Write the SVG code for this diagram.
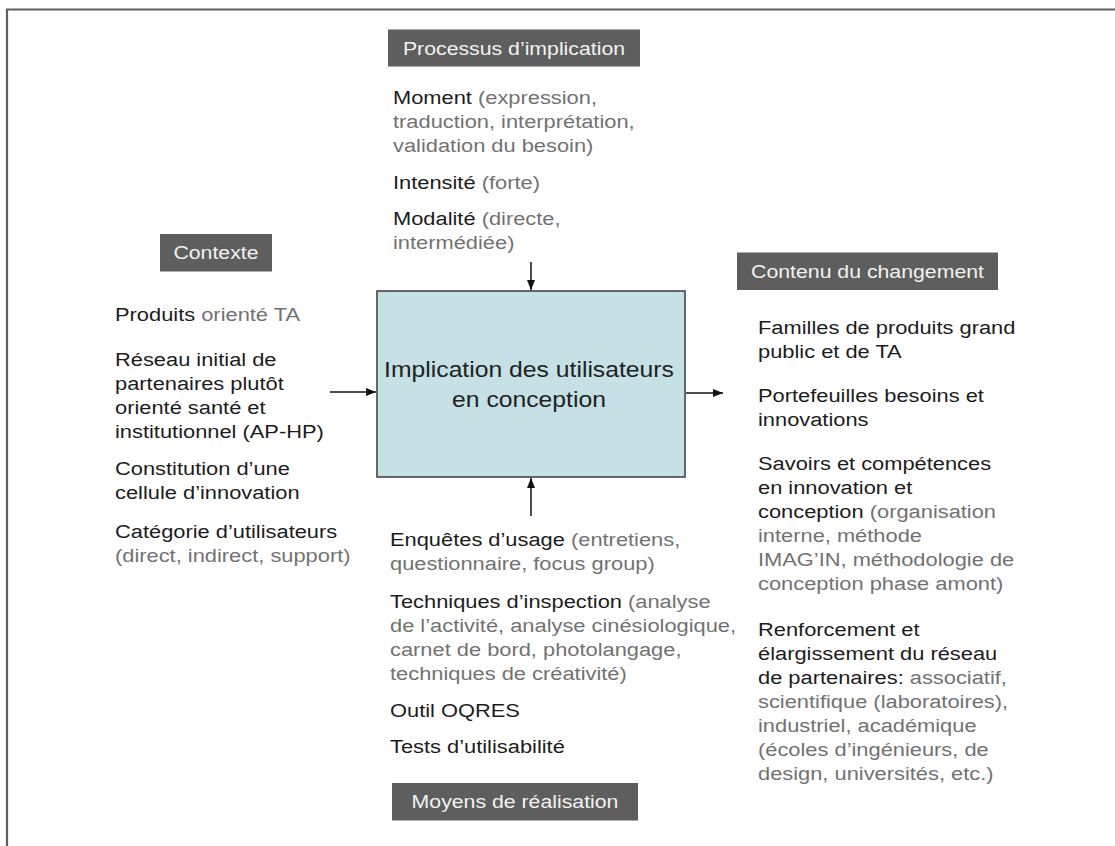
<svg xmlns="http://www.w3.org/2000/svg" width="1115" height="846" viewBox="0 0 1115 846">
<defs>
<marker id="ah" markerUnits="userSpaceOnUse" markerWidth="11" markerHeight="9" refX="10" refY="4" orient="auto">
<path d="M0,0 L10,4 L0,8 z" fill="#111"/>
</marker>
<style>
.t { font-family: "Liberation Sans", Arial, Helvetica, sans-serif; font-size: 19px; fill: #1c1c1c; }
.g { fill: #727272; }
.lblbox { fill: #5e5e5e; }
.lt { font-family: "Liberation Sans", Arial, Helvetica, sans-serif; font-size: 18.5px; fill: #f2f2f2; text-anchor: middle; }
.ct { font-family: "Liberation Sans", Arial, Helvetica, sans-serif; font-size: 21.5px; fill: #222; text-anchor: middle; }
.conn { stroke: #111; stroke-width: 1.5; fill: none; marker-end: url(#ah); }
</style>
</defs>
<rect x="0" y="0" width="1115" height="846" fill="#fff"/>
<path d="M7,846 L7,9.5 L1115,9.5" fill="none" stroke="#606060" stroke-width="2.2"/>

<g id="main">
<rect x="377" y="291" width="308" height="186" fill="#c5e1e6" stroke="#3a3a3a" stroke-width="1.5"/>
<g transform="translate(529,0) scale(1.15,1)">
<text class="ct" x="0" y="377">Implication des utilisateurs</text>
<text class="ct" x="0" y="407">en conception</text>
</g>
</g>

<g id="processus">
<rect class="lblbox" x="388" y="29.5" width="252" height="37"/>
<g transform="translate(514,0) scale(1.15,1)"><text class="lt" x="0" y="55">Processus d’implication</text></g>
<g transform="translate(393,0) scale(1.15,1)">
<text class="t" x="0" y="104">Moment <tspan class="g">(expression,</tspan></text>
<text class="t g" x="0" y="128">traduction, interprétation,</text>
<text class="t g" x="0" y="152">validation du besoin)</text>
<text class="t" x="0" y="189">Intensité <tspan class="g">(forte)</tspan></text>
<text class="t" x="0" y="225">Modalité <tspan class="g">(directe,</tspan></text>
<text class="t g" x="0" y="249">intermédiée)</text>
</g>
</g>

<g id="contexte">
<rect class="lblbox" x="160" y="234" width="112" height="37.5"/>
<g transform="translate(216,0) scale(1.15,1)"><text class="lt" x="0" y="259">Contexte</text></g>
<g transform="translate(115,0) scale(1.15,1)">
<text class="t" x="0" y="321">Produits <tspan class="g">orienté TA</tspan></text>
<text class="t" x="0" y="366">Réseau initial de</text>
<text class="t" x="0" y="390">partenaires plutôt</text>
<text class="t" x="0" y="414">orienté santé et</text>
<text class="t" x="0" y="438">institutionnel (AP-HP)</text>
<text class="t" x="0" y="475">Constitution d’une</text>
<text class="t" x="0" y="499">cellule d’innovation</text>
<text class="t" x="0" y="538">Catégorie d’utilisateurs</text>
<text class="t g" x="0" y="562">(direct, indirect, support)</text>
</g>
</g>

<g id="contenu">
<rect class="lblbox" x="737" y="252.5" width="261" height="37.5"/>
<g transform="translate(867.5,0) scale(1.15,1)"><text class="lt" x="0" y="278">Contenu du changement</text></g>
<g transform="translate(758,0) scale(1.15,1)">
<text class="t" x="0" y="334">Familles de produits grand</text>
<text class="t" x="0" y="358">public et de TA</text>
<text class="t" x="0" y="402">Portefeuilles besoins et</text>
<text class="t" x="0" y="426">innovations</text>
<text class="t" x="0" y="470">Savoirs et compétences</text>
<text class="t" x="0" y="494">en innovation et</text>
<text class="t" x="0" y="518">conception <tspan class="g">(organisation</tspan></text>
<text class="t g" x="0" y="542">interne, méthode</text>
<text class="t g" x="0" y="566">IMAG’IN, méthodologie de</text>
<text class="t g" x="0" y="590">conception phase amont)</text>
<text class="t" x="0" y="636">Renforcement et</text>
<text class="t" x="0" y="660">élargissement du réseau</text>
<text class="t" x="0" y="684">de partenaires: <tspan class="g">associatif,</tspan></text>
<text class="t g" x="0" y="708">scientifique (laboratoires),</text>
<text class="t g" x="0" y="732">industriel, académique</text>
<text class="t g" x="0" y="756">(écoles d’ingénieurs, de</text>
<text class="t g" x="0" y="780">design, universités, etc.)</text>
</g>
</g>

<g id="moyens">
<rect class="lblbox" x="392" y="783" width="246" height="37.5"/>
<g transform="translate(515,0) scale(1.15,1)"><text class="lt" x="0" y="808">Moyens de réalisation</text></g>
<g transform="translate(390,0) scale(1.15,1)">
<text class="t" x="0" y="546">Enquêtes d’usage <tspan class="g">(entretiens,</tspan></text>
<text class="t g" x="0" y="570">questionnaire, focus group)</text>
<text class="t" x="0" y="608">Techniques d’inspection <tspan class="g">(analyse</tspan></text>
<text class="t g" x="0" y="632">de l’activité, analyse cinésiologique,</text>
<text class="t g" x="0" y="656">carnet de bord, photolangage,</text>
<text class="t g" x="0" y="680">techniques de créativité)</text>
<text class="t" x="0" y="717">Outil OQRES</text>
<text class="t" x="0" y="753">Tests d’utilisabilité</text>
</g>
</g>

<g id="connectors">
<line class="conn" x1="531" y1="262" x2="531" y2="290"/>
<line class="conn" x1="330" y1="392" x2="376" y2="392"/>
<line class="conn" x1="686" y1="393" x2="723" y2="393"/>
<line class="conn" x1="531" y1="516" x2="531" y2="478"/>
</g>
</svg>
